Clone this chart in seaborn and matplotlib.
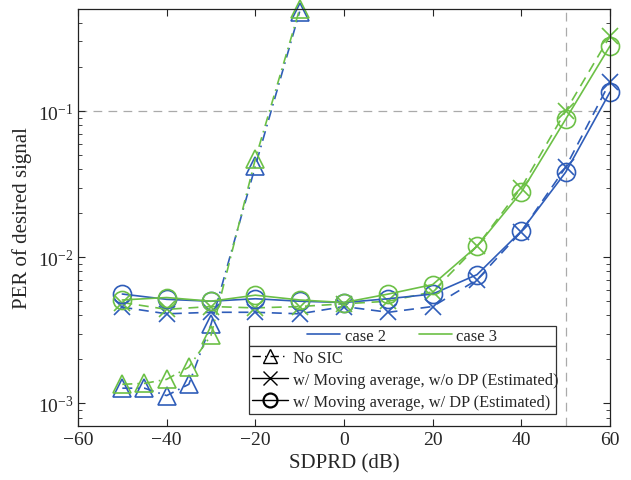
import numpy as np
import pandas as pd
import matplotlib
matplotlib.use("Agg")
import matplotlib.pyplot as plt
import seaborn as sns
from matplotlib.lines import Line2D
from matplotlib.patches import Rectangle
from matplotlib.ticker import LogLocator, FixedLocator

# ---- data ----
x_nosic = [-50, -45, -40, -35, -30, -20, -10]
nosic_case2 = [1.27e-3, 1.27e-3, 1.13e-3, 1.35e-3, 3.47e-3, 0.042, 0.48]
nosic_case3 = [1.35e-3, 1.37e-3, 1.46e-3, 1.77e-3, 2.92e-3, 0.047, 0.50]

x_ma = [-50, -40, -30, -20, -10, 0, 10, 20, 30, 40, 50, 60]
wodp_case2 = [4.55e-3, 4.1e-3, 4.2e-3, 4.2e-3, 4.1e-3, 4.6e-3, 4.2e-3, 4.6e-3, 7.0e-3, 0.0150, 0.0413, 0.158]
wodp_case3 = [4.9e-3, 4.4e-3, 4.6e-3, 4.5e-3, 4.6e-3, 4.8e-3, 5.0e-3, 5.8e-3, 0.0119, 0.030, 0.100, 0.326]
wdp_case2 = [5.6e-3, 5.15e-3, 5.0e-3, 5.2e-3, 5.0e-3, 4.9e-3, 5.2e-3, 5.6e-3, 7.6e-3, 0.0151, 0.0382, 0.135]
wdp_case3 = [5.1e-3, 5.3e-3, 5.0e-3, 5.5e-3, 5.1e-3, 4.9e-3, 5.6e-3, 6.5e-3, 0.0119, 0.0279, 0.088, 0.279]

case_labels = ["case 2", "case 3"]
method_labels = ["No SIC",
                 "w/ Moving average, w/o DP (Estimated)",
                 "w/ Moving average, w/ DP (Estimated)"]
x_ticks = [-60, -40, -20, 0, 20, 40, 60]
ref_y = 0.1
ref_x = 50

blue = "#2F5DB9"
green = "#6CC046"

sns.set_style("ticks")
plt.rcParams["font.family"] = ["Liberation Serif", "DejaVu Serif"]
plt.rcParams["mathtext.fontset"] = "stix"

fig = plt.figure(figsize=(6.31, 4.81), dpi=100)
ax = fig.add_axes([0.1236, 0.1123, 0.8431, 0.8669])

dashdot = (0, (6, 3, 1, 3))
dashed = (0, (6, 4))

series = [
    (x_nosic, nosic_case2, blue, "^", dashdot, 13),
    (x_nosic, nosic_case3, green, "^", dashdot, 13),
    (x_ma, wodp_case2, blue, "x", dashed, 12),
    (x_ma, wodp_case3, green, "x", dashed, 12),
    (x_ma, wdp_case2, blue, "o", "-", 13),
    (x_ma, wdp_case3, green, "o", "-", 13),
]
for xs, ys, c, m, ls, ms in series:
    df = pd.DataFrame({"x": xs, "y": ys})
    sns.lineplot(data=df, x="x", y="y", ax=ax, color=c, marker=m, linestyle=ls,
                 markersize=ms, markerfacecolor="none", markeredgecolor=c,
                 markeredgewidth=1.2, linewidth=1.2, legend=False, clip_on=False)

ax.set_yscale("log")
ax.set_xlim(-60, 60)
ax.set_ylim(7e-4, 0.5)

ax.axhline(ref_y, color="#aaaaaa", linestyle=(0, (7, 5)), linewidth=0.9, zorder=0)
ax.axvline(ref_x, color="#aaaaaa", linestyle=(0, (7, 5)), linewidth=0.9, zorder=0)

ax.xaxis.set_major_locator(FixedLocator(x_ticks))
ax.yaxis.set_major_locator(LogLocator(base=10))
ax.yaxis.set_minor_locator(LogLocator(base=10, subs=np.arange(2, 10)))
ax.tick_params(which="both", direction="in", top=True, right=True, labelsize=14)
ax.tick_params(which="major", length=5, width=0.8)
ax.tick_params(which="minor", length=3, width=0.6)
ax.set_xticklabels([f"{t}".replace("-", "\u2212") for t in x_ticks])
for s in ax.spines.values():
    s.set_linewidth(0.9)
    s.set_color("#222222")

ax.set_xlabel("SDPRD (dB)", fontsize=15)
ax.set_ylabel("PER of desired signal", fontsize=15)

# legends
ax.add_patch(Rectangle((0.321, 0.192), 0.577, 0.048, transform=ax.transAxes,
                       facecolor="white", edgecolor="#333333", linewidth=0.9, zorder=5))
ax.add_patch(Rectangle((0.321, 0.029), 0.577, 0.163, transform=ax.transAxes,
                       facecolor="white", edgecolor="#333333", linewidth=0.9, zorder=5))

h1 = [Line2D([], [], color=blue, linewidth=1.2), Line2D([], [], color=green, linewidth=1.2)]
leg1 = ax.legend(h1, case_labels, ncol=2, loc="center",
                 bbox_to_anchor=(0.321, 0.192, 0.577, 0.048), frameon=False,
                 fontsize=12, handlelength=2.0, columnspacing=2.0, handletextpad=0.25,
                 borderaxespad=0, borderpad=0)
leg1.set_zorder(6)
ax.add_artist(leg1)

h2 = [Line2D([], [], color="black", marker="^", linestyle=dashdot, markerfacecolor="none", markersize=10, linewidth=1.0),
      Line2D([], [], color="black", marker="x", linestyle="-", markerfacecolor="none", markersize=10, linewidth=1.0),
      Line2D([], [], color="black", marker="o", linestyle="-", markerfacecolor="none", markersize=10, linewidth=1.0, markeredgewidth=1.6)]
leg2 = ax.legend(h2, method_labels, loc="center left",
                 bbox_to_anchor=(0.321, 0.029, 0.577, 0.163), frameon=False,
                 fontsize=11.8, handlelength=2.2, handletextpad=0.3, labelspacing=0.35,
                 borderaxespad=0, borderpad=0.2)
leg2.set_zorder(6)

fig.savefig("out.png", dpi=100)
